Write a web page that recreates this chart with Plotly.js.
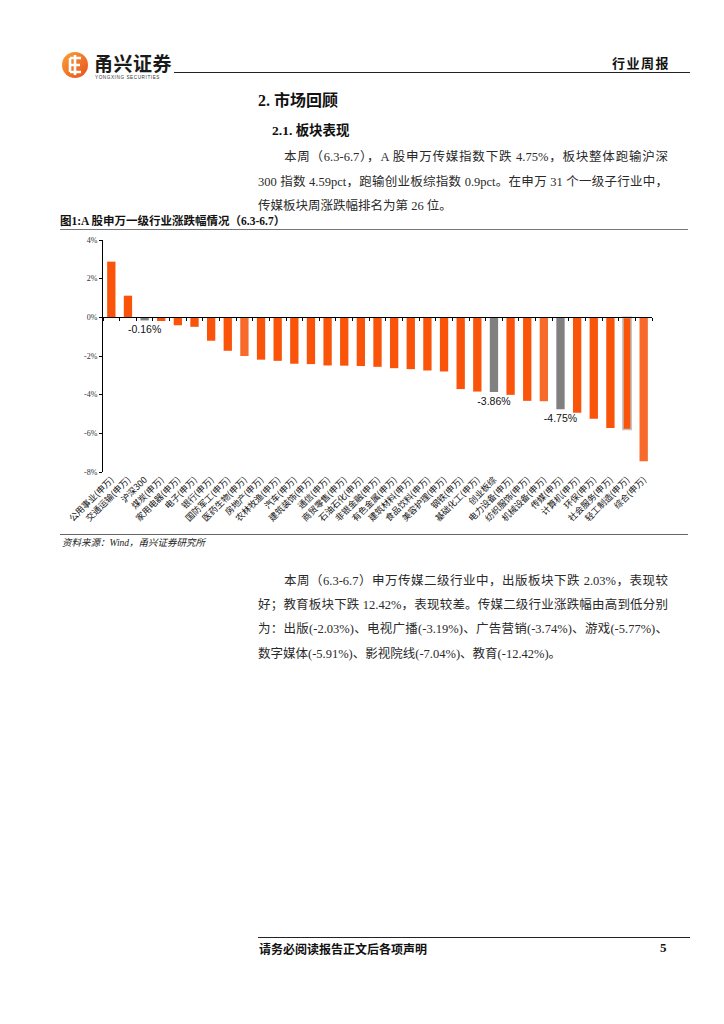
<!DOCTYPE html>
<html>
<head>
<meta charset="utf-8">
<script src="https://cdn.plot.ly/plotly-3.0.1.min.js"></script>
<style>
  html, body { margin:0; padding:0; background:#fff; }
  body { width:724px; height:1024px; position:relative; overflow:hidden;
         font-family:"Liberation Serif","Noto Sans CJK SC",serif; color:#111; }
  .abs { position:absolute; white-space:nowrap; }
  .jl { position:absolute; text-align:justify; text-align-last:justify; white-space:nowrap; font-size:12.5px; line-height:16px; color:#2a2a2a; }
  .ln { position:absolute; font-size:12.5px; line-height:16px; white-space:nowrap; color:#2a2a2a; }
  .hr { position:absolute; height:0; }
  #chart { position:absolute; left:55px; top:228px; width:625px; height:310px; }
</style>
</head>
<body>
<!-- header -->
<svg class="abs" style="left:61px;top:51px" width="28" height="28" viewBox="0 0 28 28">
  <defs><linearGradient id="g" x1="0" y1="0" x2="1" y2="1">
    <stop offset="0" stop-color="#F7A23A"/><stop offset="1" stop-color="#E8501C"/></linearGradient></defs>
  <circle cx="14" cy="14" r="13" fill="url(#g)"/>
  <path d="M9 7 H20 M9 14 H19 M9 21 H20 M9 7 V21 M14 4 V24" stroke="#fff" stroke-width="2.6" fill="none"/>
</svg>
<div class="abs" style="left:94px;top:52px;font-family:'Noto Sans CJK SC';font-weight:700;font-size:19px;line-height:22px;color:#1a1a1a;letter-spacing:0.5px">甬兴证券</div>
<div class="abs" style="left:95px;top:75px;font-family:'Liberation Sans';font-size:4.6px;letter-spacing:0.6px;color:#333">YONGXING SECURITIES</div>
<div class="hr" style="left:174px;top:72px;width:516px;border-top:1.4px solid #222"></div>
<div class="abs" style="left:612px;top:53px;font-family:'Noto Sans CJK SC';font-weight:700;font-size:13px;letter-spacing:1.5px;color:#111">行业周报</div>

<!-- section titles -->
<div class="abs" style="left:258px;top:91px;font-weight:700;font-size:16px;line-height:20px">2. 市场回顾</div>
<div class="abs" style="left:272px;top:122px;font-weight:700;font-size:13.5px;line-height:18px">2.1. 板块表现</div>

<div class="jl" style="left:284px;top:149px;width:384px">本周（6.3-6.7），A 股申万传媒指数下跌 4.75%，板块整体跑输沪深</div>
<div class="jl" style="left:258px;top:174px;width:410px">300 指数 4.59pct，跑输创业板综指数 0.9pct。在申万 31 个一级子行业中，</div>
<div class="ln" style="left:258px;top:198px">传媒板块周涨跌幅排名为第 26 位。</div>

<div class="abs" style="left:60px;top:213px;font-weight:700;font-size:11.5px;line-height:16px">图1:A 股申万一级行业涨跌幅情况（6.3-6.7）</div>
<div class="hr" style="left:60px;top:229px;width:628px;border-top:1px solid #777"></div>

<div id="chart"></div>

<div class="hr" style="left:60px;top:534px;width:628px;border-top:1px solid #666"></div>
<div class="abs" style="left:62px;top:537px;font-style:italic;font-size:9.5px;line-height:13px;color:#222">资料来源：Wind，甬兴证券研究所</div>

<div class="jl" style="left:284px;top:573px;width:384px">本周（6.3-6.7）申万传媒二级行业中，出版板块下跌 2.03%，表现较</div>
<div class="jl" style="left:258px;top:597px;width:410px">好；教育板块下跌 12.42%，表现较差。传媒二级行业涨跌幅由高到低分别</div>
<div class="jl" style="left:258px;top:621px;width:410px">为：出版(-2.03%)、电视广播(-3.19%)、广告营销(-3.74%)、游戏(-5.77%)、</div>
<div class="ln" style="left:258px;top:646px">数字媒体(-5.91%)、影视院线(-7.04%)、教育(-12.42%)。</div>

<!-- footer -->
<div class="hr" style="left:258px;top:937px;width:432px;border-top:1px solid #222"></div>
<div class="abs" style="left:259px;top:941px;font-family:'Noto Sans CJK SC';font-weight:700;font-size:12px;line-height:15px">请务必阅读报告正文后各项声明</div>
<div class="abs" style="left:660px;top:940px;font-weight:700;font-size:13px;line-height:16px">5</div>

<script>
const categories = ['公用事业(申万)','交通运输(申万)','沪深300','煤炭(申万)','家用电器(申万)','电子(申万)','银行(申万)','国防军工(申万)','医药生物(申万)','房地产(申万)','农林牧渔(申万)','汽车(申万)','建筑装饰(申万)','通信(申万)','商贸零售(申万)','石油石化(申万)','非银金融(申万)','有色金属(申万)','建筑材料(申万)','食品饮料(申万)','美容护理(申万)','钢铁(申万)','基础化工(申万)','创业板综','电力设备(申万)','纺织服饰(申万)','机械设备(申万)','传媒(申万)','计算机(申万)','环保(申万)','社会服务(申万)','轻工制造(申万)','综合(申万)'];
const changes = [2.88,1.12,-0.16,-0.19,-0.41,-0.49,-1.21,-1.73,-2.00,-2.19,-2.25,-2.40,-2.42,-2.49,-2.50,-2.52,-2.56,-2.63,-2.68,-2.75,-2.80,-3.71,-3.84,-3.86,-4.01,-4.32,-4.34,-4.75,-4.94,-5.25,-5.72,-5.80,-7.45];
const benchmarks = ['沪深300','创业板综','传媒(申万)'];
const lighter = ['医药生物(申万)','机械设备(申万)','综合(申万)'];
const highlighted = ['轻工制造(申万)'];
const yTickVals = [4,2,0,-2,-4,-6,-8];
const yTickText = ['4%','2%','0%','-2%','-4%','-6%','-8%'];

const ORANGE = '#FA540A', LIGHT = '#F8692C', GREY = '#808080';
const colors = categories.map(c => benchmarks.includes(c) ? GREY : (lighter.includes(c) ? LIGHT : ORANGE));
const lineColors = categories.map(c => highlighted.includes(c) ? '#C4C4C4' : 'rgba(0,0,0,0)');
const lineWidths = categories.map(c => highlighted.includes(c) ? 1.6 : 0);
const labels = categories.map((c,i) => benchmarks.includes(c) ? changes[i].toFixed(2) + '%' : '');

const yMin = -8, yMax = 4;

const traces = [
  { type:'bar', x:categories, y:changes, width:0.5,
    marker:{ color:colors, line:{ color:lineColors, width:lineWidths } },
    text:labels, textposition:'outside', cliponaxis:false, constraintext:'none',
    textfont:{ family:'Liberation Sans, Arial', size:10.5, color:'#111' },
    hoverinfo:'x+y', showlegend:false },
  { type:'scatter', mode:'markers', x:categories, y:categories.map(()=>0),
    xaxis:'x2', marker:{ opacity:0 }, hoverinfo:'skip', showlegend:false }
];

const layout = {
  width:625, height:310,
  margin:{ l:48, r:27.5, t:12, b:65.7 },
  paper_bgcolor:'rgba(0,0,0,0)', plot_bgcolor:'rgba(0,0,0,0)',
  showlegend:false,
  xaxis:{ type:'category', range:[-0.5, categories.length-0.5], tickmode:'linear', tick0:0, dtick:1,
          tickangle:-45, showline:false, showgrid:false, zeroline:false, ticks:'',
          tickfont:{ family:'Noto Sans CJK SC', size:8.8, color:'#111' } },
  xaxis2:{ type:'category', overlaying:'x', anchor:'free', position:(0 - yMin)/(yMax - yMin), side:'bottom',
           range:[-0.5, categories.length-0.5], showline:true, linecolor:'#000', linewidth:1,
           ticks:'outside', ticklen:3, tickwidth:1, tickcolor:'#000', tickson:'boundaries',
           showticklabels:false, showgrid:false, zeroline:false },
  yaxis:{ range:[yMin, yMax], tickmode:'array', tickvals:yTickVals, ticktext:yTickText,
          showline:true, linecolor:'#000', linewidth:1, ticks:'outside', ticklen:3, tickcolor:'#000',
          showgrid:false, zeroline:false,
          tickfont:{ family:'Liberation Serif', size:8, color:'#333' } }
};

Plotly.newPlot('chart', traces, layout, { displayModeBar:false, staticPlot:true });
</script>
</body>
</html>
